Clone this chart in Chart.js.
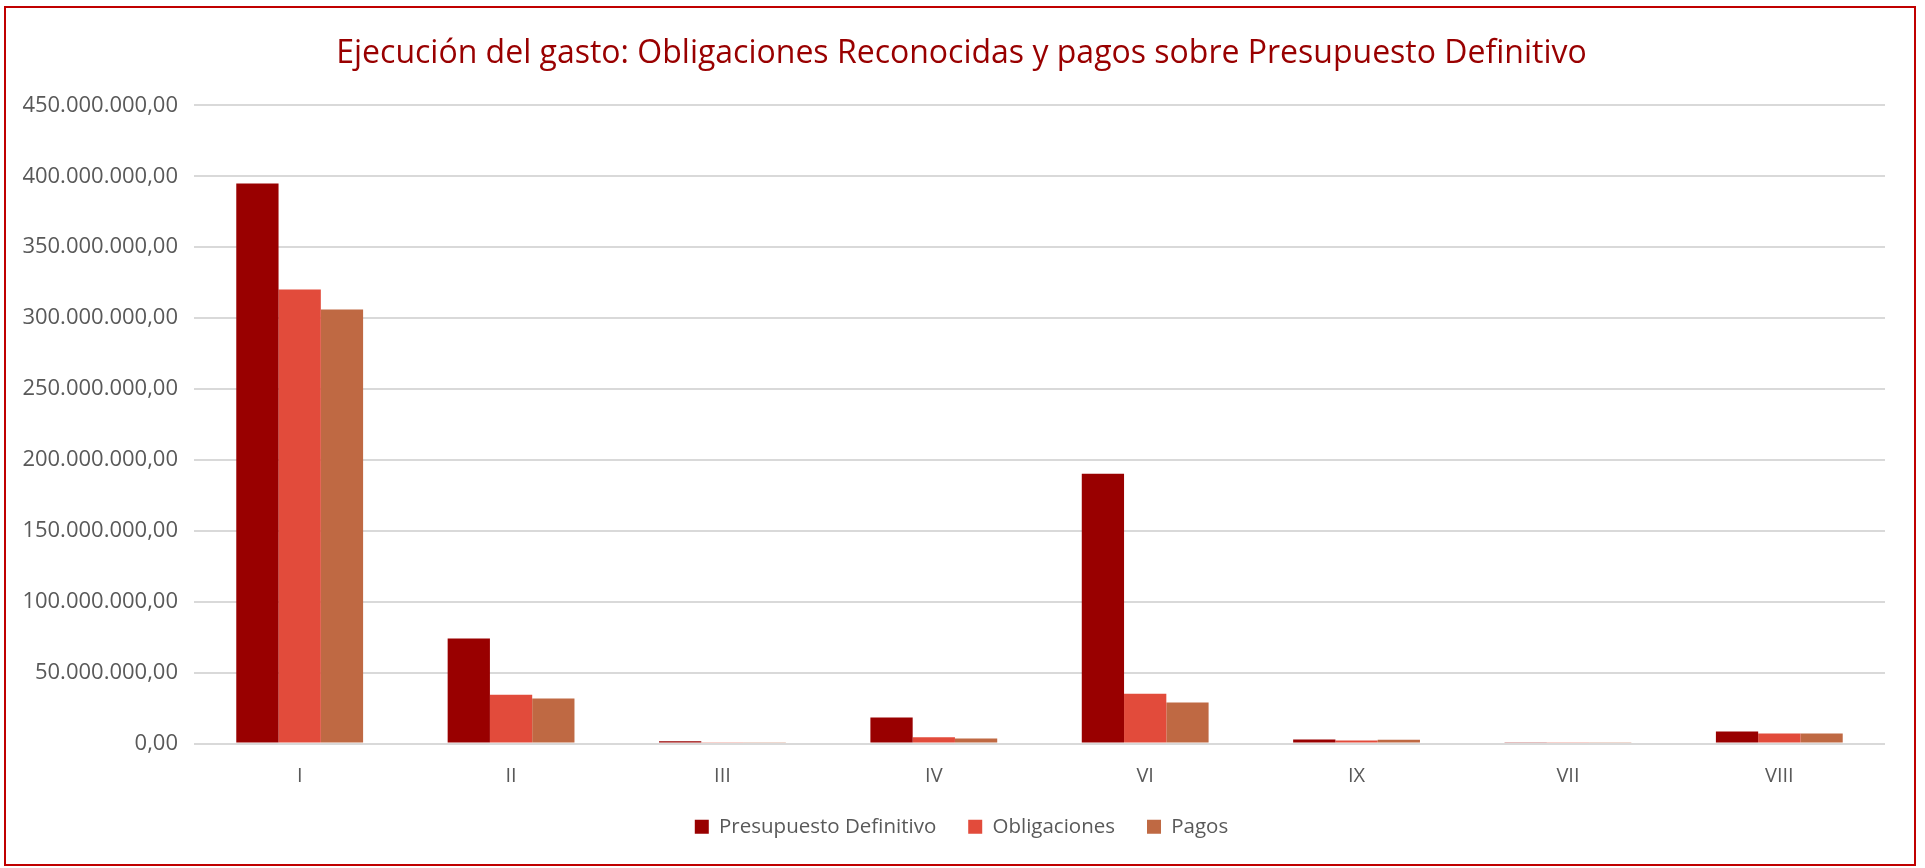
<!DOCTYPE html>
<html><head><meta charset="utf-8">
<script src="https://cdn.jsdelivr.net/npm/chart.js@4.4.1/dist/chart.umd.min.js"></script>
<style>
html,body{margin:0;padding:0;background:#fff;overflow:hidden;}
#frame{position:absolute;left:4px;top:6px;width:1912px;height:860px;border:2px solid #C00000;box-sizing:border-box;pointer-events:none;}
#c{position:absolute;left:0;top:0;}
</style>
</head><body>
<canvas id="c" width="1925" height="868"></canvas>
<div id="frame"></div>
<script>
const titleText = 'Ejecución del gasto: Obligaciones Reconocidas y pagos sobre Presupuesto Definitivo';
const categories = ['I', 'II', 'III', 'IV', 'VI', 'IX', 'VII', 'VIII'];
const seriesNames = ['Presupuesto Definitivo', 'Obligaciones', 'Pagos'];
const presupuesto = [394900000, 74000000, 1500000, 18300000, 190200000, 2800000, 900000, 8500000];
const obligaciones = [320200000, 34300000, 800000, 4400000, 35000000, 2100000, 500000, 7000000];
const pagos = [306100000, 31700000, 800000, 3500000, 28900000, 2600000, 500000, 7000000];
const yMin = 0, yMax = 450000000, yStep = 50000000;

const colors = ['#990000', '#E24B3B', '#BF6943'];
const FONT = '"Open Sans", "Noto Sans", sans-serif';
const txtColor = '#595959';

function fmt(v) {
  const s = Math.round(v).toString();
  const g = s.replace(/\B(?=(\d{3})+(?!\d))/g, '.');
  return g + ',00';
}

new Chart(document.getElementById('c'), {
  type: 'bar',
  data: {
    labels: categories,
    datasets: [
      { label: seriesNames[0], data: presupuesto, backgroundColor: colors[0] },
      { label: seriesNames[1], data: obligaciones, backgroundColor: colors[1] },
      { label: seriesNames[2], data: pagos, backgroundColor: colors[2] }
    ]
  },
  options: {
    responsive: false,
    animation: false,
    devicePixelRatio: 1,
    datasets: { bar: { categoryPercentage: 0.6, barPercentage: 1.0, borderWidth: 0 } },
    layout: { padding: { left: 0, right: 2, top: 0, bottom: 21 } },
    plugins: {
      title: {
        display: true, text: titleText, color: '#990000',
        font: { family: FONT, size: 32, weight: 'normal', lineHeight: 1.2 },
        padding: { top: 35, bottom: 32 }
      },
      legend: {
        position: 'bottom',
        labels: {
          color: txtColor, boxWidth: 14, boxHeight: 14, padding: 32,
          font: { family: FONT, size: 20.5 }
        }
      },
      tooltip: { enabled: false }
    },
    scales: {
      x: {
        grid: { display: false, drawTicks: false },
        border: { display: false },
        ticks: { color: txtColor, font: { family: FONT, size: 20 }, padding: 21 },
        afterFit: s => { s.height = 41; }
      },
      y: {
        min: yMin, max: yMax,
        grid: { color: '#D9D9D9', lineWidth: 2, drawTicks: false },
        border: { display: false },
        ticks: { stepSize: yStep, color: txtColor, font: { family: FONT, size: 22 }, padding: 16, callback: v => fmt(v) },
        afterFit: s => { s.width = 194; }
      },
      yRight: {
        position: 'right',
        min: yMin, max: yMax,
        grid: { display: false, drawTicks: false },
        border: { display: false },
        ticks: { display: false },
        afterFit: s => { s.width = 38; }
      }
    }
  }
});
</script>
</body></html>
